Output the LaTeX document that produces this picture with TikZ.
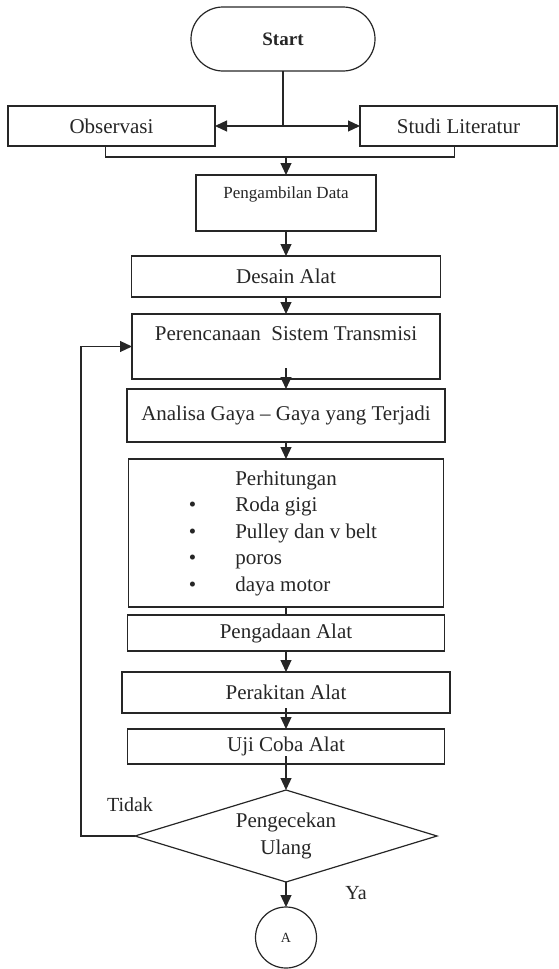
\documentclass[tikz,border=0pt]{standalone}
\usepackage{fontspec}
\setmainfont{Liberation Serif}
\usepackage{tikz}
\usetikzlibrary{positioning,arrows.meta,shapes.geometric}
\definecolor{ink}{HTML}{262626}

\begin{document}
\begin{tikzpicture}[
    x=1pt, y=-1pt,
    font=\fontsize{21}{26.5}\selectfont,
    every node/.style={inner sep=0pt, outer sep=0pt, text=ink},
    box/.style={rectangle, draw=ink, line width=1.2pt, minimum width=317pt,
                minimum height=40pt},
    terminal/.style={rectangle, rounded corners=32pt, draw=ink, line width=1.2pt,
                     minimum width=184pt, minimum height=64pt},
    decision/.style={diamond, aspect=3.3, draw=ink, line width=1.2pt,
                     minimum width=302pt, minimum height=92pt, align=center},
    connector/.style={circle, draw=ink, line width=1.2pt, minimum size=61pt},
    raised/.style={text height=15pt, text depth=#1},
    line/.style={draw=ink, line width=1.2pt},
    arrow/.style={line, -{Triangle[length=12pt,width=11pt]}}
]
\useasboundingbox (0,0) rectangle (559,969);

\node[terminal, font=\fontsize{19}{23}\selectfont\bfseries] (start) at (283,39) {Start};
\node[box, minimum width=207pt] (obs) at (111.5,126) {Observasi};
\node[box, minimum width=197pt] (studi) at (458.5,126) {Studi Literatur};
\node[box, minimum width=180pt, minimum height=56pt, font=\fontsize{17}{20}\selectfont,
      text height=12pt, text depth=21pt] (peng) at (286,203) {Pengambilan Data};

\node[box, minimum width=309pt, minimum height=41pt, below=25pt of peng] (desain) {Desain Alat};
\node[box, minimum width=308pt, minimum height=65pt, raised=28pt, below=17pt of desain] (peren) {Perencanaan \ Sistem Transmisi};
\node[box, minimum width=318pt, minimum height=53pt, below=10pt of peren] (analisa) {Analisa Gaya -- Gaya yang Terjadi};
\node[box, minimum width=315pt, minimum height=148pt, below=17pt of analisa] (perhit) {\begin{tabular}{@{}l@{\hspace{39pt}}l@{}}
 & Perhitungan\\
\textbullet & Roda gigi\\
\textbullet & Pulley dan v belt\\
\textbullet & poros\\
\textbullet & daya motor
\end{tabular}\hspace*{6pt}};
\node[box, minimum width=317pt, minimum height=36pt, below=8pt of perhit] (pengadaan) {Pengadaan Alat};
\node[box, minimum width=328pt, minimum height=41pt, below=21pt of pengadaan] (perakitan) {Perakitan Alat};
\node[box, minimum width=317pt, minimum height=35pt, below=16pt of perakitan] (uji) {Uji Coba Alat};
\node[decision, below=26pt of uji] (cek) {Pengecekan\\Ulang};
\node[connector, below=25pt of cek, font=\fontsize{14}{17}\selectfont] (ujung) {A};

\node[font=\fontsize{20}{24}\selectfont] (tidak) at (130,805) {Tidak};
\node[font=\fontsize{20}{24}\selectfont] (ya) at (356,893) {Ya};

\coordinate (fork) at (start.south |- obs.east);
\coordinate (merge) at (peng.north |- 0,157);
\draw[line] (start) -- (fork);
\draw[arrow] (fork) -- (obs);
\draw[arrow] (fork) -- (studi);
\draw[line] ([xshift=-6pt]obs.south) -- ++(0,11) -| ([xshift=-4pt]studi.south);
\draw[arrow] (merge) -- (peng);
\draw[arrow] (peng) -- (desain);
\draw[arrow] (desain) -- (peren);
\draw[arrow] ([yshift=11pt]peren.south) -- (analisa);
\draw[arrow] (analisa) -- (perhit);
\draw[line] (perhit) -- (pengadaan);
\draw[arrow] (pengadaan) -- (perakitan);
\draw[arrow] ([yshift=5pt]perakitan.south) -- (uji);
\draw[arrow] ([yshift=8pt]uji.south) -- (cek);
\draw[arrow] (cek) -- (ujung);
\draw[arrow] (cek.west) -- ++(-54,0) |- (peren.west);
\end{tikzpicture}
\end{document}
